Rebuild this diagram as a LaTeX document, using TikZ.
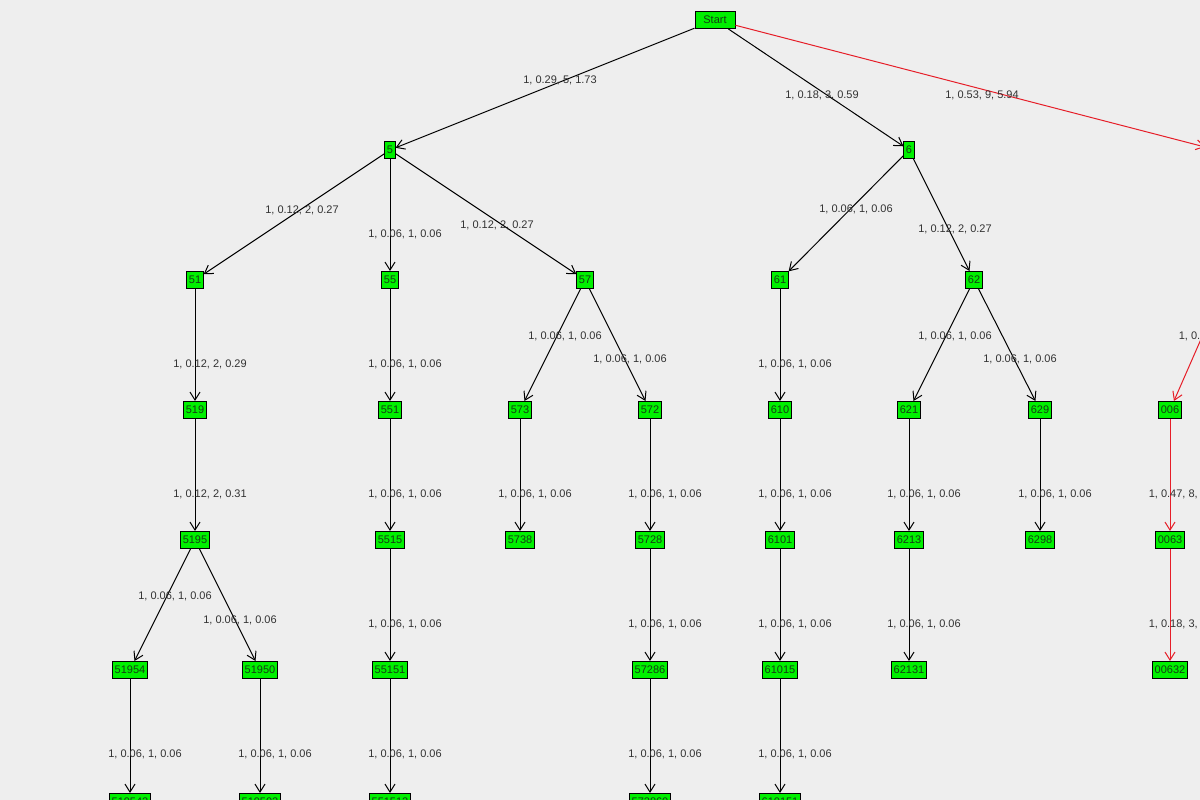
\documentclass[tikz,border=0pt]{standalone}
\usepackage{fontspec}
\setmainfont{Liberation Sans}
\usetikzlibrary{arrows.meta}
\definecolor{bg}{RGB}{238,238,238}
\definecolor{ngreen}{RGB}{0,240,0}
\definecolor{ntext}{RGB}{20,60,20}
\definecolor{ered}{RGB}{230,30,40}
\definecolor{ltext}{RGB}{50,50,50}
\begin{document}
\begin{tikzpicture}[x=1pt,y=-1pt,line width=1pt,
  nd/.style={draw=black,fill=ngreen,inner sep=2pt,minimum height=17pt,font=\fontsize{11}{12}\selectfont,text=ntext},
  ed/.style={draw=black,-{Straight Barb[length=8pt,width=10pt]}},
  rd/.style={draw=ered,-{Straight Barb[length=8pt,width=10pt]}},
  lb/.style={font=\fontsize{11}{12}\selectfont,text=ltext}]
\fill[bg] (0,0) rectangle (1200,800);
\useasboundingbox (0,0) rectangle (1200,800);
\clip (0,0) rectangle (1200,800);
\node[nd,minimum width=40pt] (S) at (715,20) {Start};
\foreach \n/\x/\y in {5/390/150,6/909/150,51/195/280,55/390/280,57/585/280,61/780/280,62/974/280,
 519/195/410,551/390/410,573/520/410,572/650/410,610/780/410,621/909/410,629/1040/410,006/1170/410,
 5195/195/540,5515/390/540,5738/520/540,5728/650/540,6101/780/540,6213/909/540,6298/1040/540,0063/1170/540,
 51954/130/670,51950/260/670,55151/390/670,57286/650/670,61015/780/670,62131/909/670,00632/1170/670,
 519542/130/802,519502/260/802,551512/390/802,572860/650/802,610151/780/802}
  \node[nd] (n\n) at (\x,\y) {\n};
\coordinate (r1) at (1205,147);
\coordinate (r2) at (1205,330);
\draw[ed] (S) -- (n5);
\draw[ed] (S) -- (n6);
\draw[rd] (S) -- (r1);
\draw[rd] (r2) -- (n006);
\draw[rd] (n006) -- (n0063);
\draw[rd] (n0063) -- (n00632);
\foreach \a/\b in {5/51,5/55,5/57,6/61,6/62,51/519,55/551,57/573,57/572,61/610,62/621,62/629,
 519/5195,551/5515,573/5738,572/5728,610/6101,621/6213,629/6298,
 5195/51954,5195/51950,5515/55151,5728/57286,6101/61015,6213/62131,
 51954/519542,51950/519502,55151/551512,57286/572860,61015/610151}
  \draw[ed] (n\a) -- (n\b);
\node[lb] at (560,80) {1, 0.29, 5, 1.73};
\node[lb] at (822,95) {1, 0.18, 3, 0.59};
\node[lb] at (982,95) {1, 0.53, 9, 5.94};
\node[lb] at (302,210) {1, 0.12, 2, 0.27};
\node[lb] at (497,225) {1, 0.12, 2, 0.27};
\node[lb] at (955,229) {1, 0.12, 2, 0.27};
\node[lb] at (210,364) {1, 0.12, 2, 0.29};
\node[lb] at (210,494) {1, 0.12, 2, 0.31};
\foreach \x/\y in {405/234,856/209,405/364,565/336,630/359,795/364,955/336,1020/359,
 405/494,535/494,665/494,795/494,924/494,1055/494,175/596,240/620,405/624,665/624,795/624,924/624,
 145/754,275/754,405/754,665/754,795/754}
  \node[lb] at (\x,\y) {1, 0.06, 1, 0.06};
\node[lb,anchor=west] at (1175,336) {1, 0.47, 8, 3.76};
\node[lb,anchor=west] at (1145,494) {1, 0.47, 8, 3.76};
\node[lb,anchor=west] at (1145,624) {1, 0.18, 3, 0.59};
\end{tikzpicture}
\end{document}
